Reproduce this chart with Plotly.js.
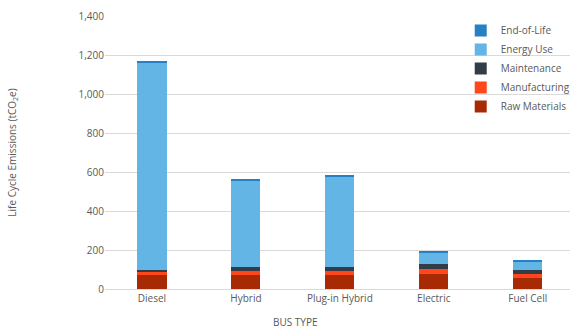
<!DOCTYPE html>
<html>
<head>
<meta charset="utf-8">
<script src="https://cdn.plot.ly/plotly-3.0.1.min.js"></script>
<style>html,body{margin:0;padding:0;background:#fff;}#chart{width:575px;height:329px;}</style>
</head>
<body>
<div id="chart"></div>
<script>
const categories = ["Diesel", "Hybrid", "Plug-in Hybrid", "Electric", "Fuel Cell"];
const rawMaterials = [71, 74, 74, 76, 57];
const manufacturing = [17, 17, 20, 26, 18];
const maintenance = [12, 20, 20, 26, 22];
const energyUse = [1059, 442, 459, 56, 41];
const endOfLife = [10, 12, 12, 12, 10];
const yTickVals = [0, 200, 400, 600, 800, 1000, 1200, 1400];
const yTickText = ["0", "200", "400", "600", "800", "1,000", "1,200", "1,400"];

const seriesList = [
  {name: "Raw Materials", y: rawMaterials, color: "#A82A05"},
  {name: "Manufacturing", y: manufacturing, color: "#FF4719"},
  {name: "Maintenance", y: maintenance, color: "#333D47"},
  {name: "Energy Use", y: energyUse, color: "#63B5E6"},
  {name: "End-of-Life", y: endOfLife, color: "#2780C4"}
];

const traces = seriesList.map(s => ({
  type: "bar",
  name: s.name,
  x: categories,
  y: s.y,
  width: 0.31,
  marker: {color: s.color, line: {width: 0}}
}));

const font = {family: "Open Sans, Liberation Sans, sans-serif", size: 10, color: "#595959"};

const layout = {
  width: 575, height: 329,
  margin: {l: 105, r: 0, t: 16, b: 39.5},
  barmode: "stack",
  paper_bgcolor: "#fff",
  plot_bgcolor: "#fff",
  font: font,
  showlegend: true,
  legend: {
    x: 0.765, y: 1.0, xanchor: "left", yanchor: "top",
    traceorder: "reversed",
    font: {family: font.family, size: 10, color: "#595959"},
    bgcolor: "rgba(255,255,255,0)",
    itemwidth: 30
  },
  xaxis: {
    type: "category",
    range: [-0.5, 4.45],
    showgrid: false,
    showline: true, linecolor: "#d9d9d9", linewidth: 1,
    ticks: "", tickfont: font,
    fixedrange: true
  },
  yaxis: {
    range: [0, 1400],
    tickvals: yTickVals, ticktext: yTickText,
    showgrid: true, gridcolor: "#d9d9d9", gridwidth: 1,
    zeroline: false, showline: false,
    ticks: "", tickfont: font, ticklen: 0,
    title: {text: "Life Cycle Emissions (tCO<sub>2</sub>e)", font: {family: font.family, size: 10, color: "#595959"}, standoff: 60},
    automargin: false,
    fixedrange: true
  },
  annotations: [{
    text: "BUS TYPE", xref: "paper", yref: "paper",
    x: 0.41, y: 0, yshift: -33, xanchor: "center", yanchor: "middle",
    showarrow: false, font: {family: font.family, size: 10, color: "#595959"}
  }]
};

Plotly.newPlot("chart", traces, layout, {displayModeBar: false, staticPlot: true});
</script>
</body>
</html>
